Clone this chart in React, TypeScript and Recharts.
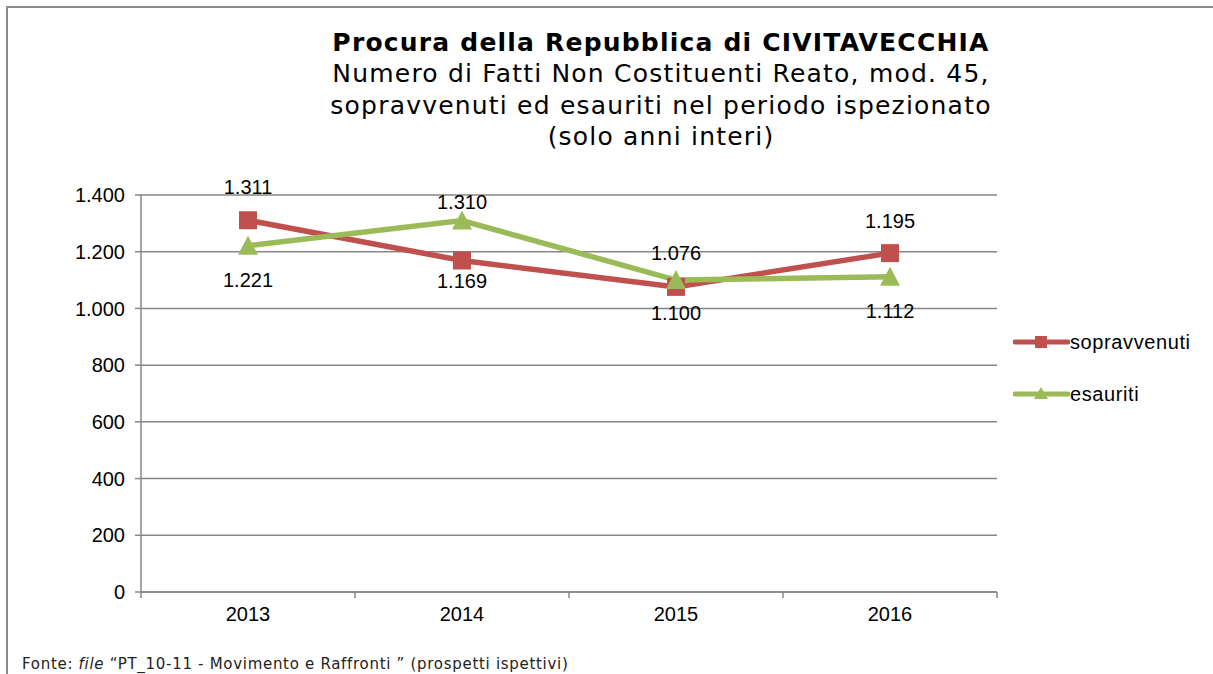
import { LineChart, Line, XAxis, YAxis, CartesianGrid, LabelList } from 'recharts';

const years = ['2013', '2014', '2015', '2016'];
const sopravvenuti = [1311, 1169, 1076, 1195];
const esauriti = [1221, 1310, 1100, 1112];
const yTicks = [0, 200, 400, 600, 800, 1000, 1200, 1400];

// where each data label sits relative to its point (px, negative = above)
const sopravLabelDy = [-33, 20, -34, -32];
const esauLabelDy = [34, -19, 33, 34];

const RED = '#C0504D';
const GREEN = '#9BBB59';
const GRID = '#868686';

const W = 1213;
const H = 674;
const M = { top: 195, right: 216, bottom: 52, left: 81 };
const Y_W = 60;
const X_H = 30;
const PLOT_W = W - M.left - M.right - Y_W;
const PLOT_BOTTOM = H - M.bottom - X_H;
const BAND = PLOT_W / years.length;

const data = years.map((y, i) => ({ year: y, sopravvenuti: sopravvenuti[i], esauriti: esauriti[i] }));

const fmt = (v: number) => String(v).replace(/\B(?=(\d{3})+(?!\d))/g, '.');

const AXIS_FONT = { fontFamily: '"Liberation Sans", Arial, sans-serif', fontSize: 20, fill: '#000' };

function XTick({ x, payload, index }: any) {
    const cx = payload?.coordinate ?? x;
    return (
        <g>
            <line x1={cx - BAND / 2} x2={cx - BAND / 2} y1={PLOT_BOTTOM} y2={PLOT_BOTTOM + 6} stroke={GRID} strokeWidth={1.5} />
            {index === years.length - 1 && (
                <line x1={cx + BAND / 2} x2={cx + BAND / 2} y1={PLOT_BOTTOM} y2={PLOT_BOTTOM + 6} stroke={GRID} strokeWidth={1.5} />
            )}
            <text x={cx} y={PLOT_BOTTOM + 22} textAnchor="middle" dominantBaseline="central" {...AXIS_FONT}>{payload.value}</text>
        </g>
    );
}

const makeLabel = (dys: number[]) => (props: any) => {
    const { x, y, value, index } = props;
    return (
        <text x={x} y={y + dys[index]} textAnchor="middle" dominantBaseline="central" {...AXIS_FONT}>{fmt(value)}</text>
    );
};

function Square({ cx, cy }: any) {
    return <rect x={cx - 9} y={cy - 9} width={18} height={18} fill={RED} />;
}

function Triangle({ cx, cy }: any) {
    return <path d={`M${cx},${cy - 10} L${cx + 10},${cy + 9} L${cx - 10},${cy + 9} Z`} fill={GREEN} />;
}

function LegendRow({ color, label, marker, top }: { color: string; label: string; marker: 'square' | 'triangle'; top: number }) {
    return (
        <div style={{ position: 'absolute', left: 1013, top, height: 24, display: 'flex', alignItems: 'center' }}>
            <svg width={57} height={24}>
                <line x1={2} x2={55} y1={12} y2={12} stroke={color} strokeWidth={5} strokeLinecap="round" />
                {marker === 'square'
                    ? <rect x={22} y={6} width={12} height={12} fill={color} />
                    : <path d="M28,5 L35,17 L21,17 Z" fill={color} />}
            </svg>
            <span style={{ fontFamily: '"Liberation Sans", Arial, sans-serif', fontSize: 20, color: '#000', letterSpacing: 0.6 }}>{label}</span>
        </div>
    );
}

export default function App() {
    return (
        <div style={{ position: 'absolute', left: 0, top: 0, width: W, height: H, overflow: 'hidden', background: '#fff' }}>
            <div style={{ position: 'absolute', left: 6, top: 6, width: W + 20, height: H + 20, border: '2px solid #8c8c8c' }} />
            <div style={{ position: 'absolute', left: 0, top: 0 }}>
                <LineChart width={W} height={H} data={data} margin={M}>
                    <CartesianGrid vertical={false} stroke={GRID} strokeWidth={1.5} />
                    <XAxis dataKey="year" height={X_H} stroke={GRID} strokeWidth={1.5} tickLine={false} tick={<XTick />} interval={0}
                        padding={{ left: BAND / 2, right: BAND / 2 }} />
                    <YAxis width={Y_W} domain={[0, 1400]} ticks={yTicks} interval={0} tickFormatter={fmt}
                        stroke={GRID} strokeWidth={1.5} tickSize={6} tickMargin={10} tick={AXIS_FONT} />
                    <Line type="linear" dataKey="sopravvenuti" stroke={RED} strokeWidth={5.5} dot={<Square />} isAnimationActive={false}>
                        <LabelList dataKey="sopravvenuti" content={makeLabel(sopravLabelDy)} />
                    </Line>
                    <Line type="linear" dataKey="esauriti" stroke={GREEN} strokeWidth={5.5} dot={<Triangle />} isAnimationActive={false}>
                        <LabelList dataKey="esauriti" content={makeLabel(esauLabelDy)} />
                    </Line>
                </LineChart>
            </div>
            <div style={{ position: 'absolute', left: 261, width: 800, top: 27, textAlign: 'center', fontFamily: '"DejaVu Sans", Verdana, sans-serif', fontSize: 25, lineHeight: '31.3px', letterSpacing: 1.2, color: '#000', whiteSpace: 'nowrap' }}>
                <div style={{ fontWeight: 'bold' }}>Procura della Repubblica di CIVITAVECCHIA</div>
                <div>Numero di Fatti Non Costituenti Reato, mod. 45,</div>
                <div>sopravvenuti ed esauriti nel periodo ispezionato</div>
                <div>(solo anni interi)</div>
            </div>
            <LegendRow color={RED} label="sopravvenuti" marker="square" top={330} />
            <LegendRow color={GREEN} label="esauriti" marker="triangle" top={382} />
            <div style={{ position: 'absolute', left: 22, top: 655, fontFamily: '"DejaVu Sans", Verdana, sans-serif', fontSize: 15, letterSpacing: 0.7, color: '#222', whiteSpace: 'nowrap' }}>
                Fonte: <i>file</i> “PT_10-11 - Movimento e Raffronti ” (prospetti ispettivi)
            </div>
        </div>
    );
}
